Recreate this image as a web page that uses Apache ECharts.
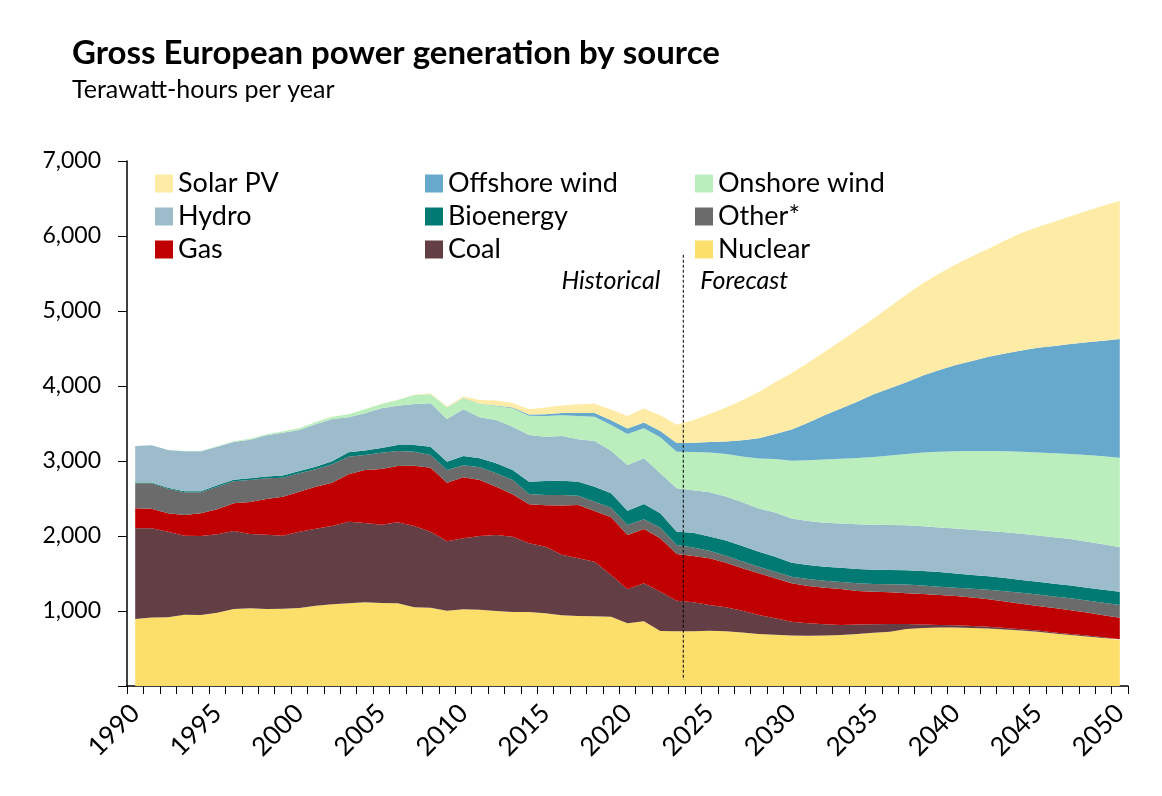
<!DOCTYPE html>
<html>
<head>
<meta charset="utf-8">
<title>Gross European power generation by source</title>
<script src="https://cdn.jsdelivr.net/npm/echarts/dist/echarts.min.js"></script>
<style>
	html, body { margin: 0; padding: 0; background: #fff; }
	#container { width: 1162px; height: 796px; }
</style>
</head>
<body>
<div id="container"></div>
<script>
/*years*/
var years = ['1990', '1991', '1992', '1993', '1994', '1995', '1996', '1997', '1998', '1999',
	'2000', '2001', '2002', '2003', '2004', '2005', '2006', '2007', '2008', '2009',
	'2010', '2011', '2012', '2013', '2014', '2015', '2016', '2017', '2018', '2019',
	'2020', '2021', '2022', '2023', '2024', '2025', '2026', '2027', '2028', '2029',
	'2030', '2031', '2032', '2033', '2034', '2035', '2036', '2037', '2038', '2039',
	'2040', '2041', '2042', '2043', '2044', '2045', '2046', '2047', '2048', '2049', '2050'];

/*TWh per source, bottom of the stack first*/
var nuclear = [893, 915, 917, 951, 948, 978, 1027, 1036, 1027, 1031,
	1040, 1071, 1089, 1102, 1116, 1107, 1102, 1049, 1044, 1004,
	1022, 1018, 1000, 987, 987, 969, 942, 933, 929, 924,
	836, 862, 733, 729, 730, 738, 730, 712, 695, 685,
	675, 670, 672, 680, 695, 710, 725, 760, 775, 780,
	780, 775, 768, 755, 740, 725, 700, 680, 660, 640, 615];
var coal = [1209, 1187, 1141, 1053, 1052, 1044, 1040, 991, 991, 973,
	1018, 1027, 1044, 1089, 1057, 1044, 1080, 1084, 1014, 925,
	947, 982, 1013, 1004, 915, 889, 808, 769, 729, 556,
	453, 507, 525, 409, 386, 342, 319, 292, 252, 217,
	183, 166, 150, 135, 125, 115, 103, 66, 45, 35,
	30, 25, 22, 20, 18, 15, 15, 13, 12, 10, 8];
var gas = [267, 262, 244, 276, 302, 334, 369, 426, 475, 520,
	533, 560, 578, 631, 707, 742, 751, 805, 853, 782,
	813, 747, 645, 565, 520, 551, 656, 711, 675, 769,
	724, 724, 711, 622, 617, 622, 595, 565, 555, 534,
	511, 497, 489, 477, 447, 433, 421, 412, 407, 399,
	390, 380, 366, 353, 340, 328, 325, 317, 308, 295, 288];
var other = [333, 338, 329, 302, 280, 302, 293, 294, 276, 254,
	245, 231, 245, 236, 200, 218, 200, 184, 169, 169,
	160, 169, 178, 191, 138, 138, 141, 125, 125, 129,
	134, 129, 142, 120, 113, 100, 92, 90, 88, 86,
	88, 94, 93, 95, 103, 102, 107, 114, 113, 111,
	110, 118, 129, 137, 147, 152, 155, 160, 160, 165, 169];
var bioenergy = [10, 10, 12, 15, 15, 18, 20, 22, 25, 28,
	30, 35, 40, 58, 60, 62, 80, 90, 111, 111,
	125, 120, 133, 133, 164, 186, 191, 186, 200, 191,
	191, 205, 191, 178, 198, 191, 205, 209, 200, 200,
	186, 186, 187, 190, 190, 190, 192, 193, 195, 195,
	190, 182, 177, 175, 170, 170, 170, 170, 170, 175, 178];
var hydro = [488, 497, 504, 532, 532, 515, 504, 515, 548, 572,
	547, 565, 564, 466, 496, 529, 525, 548, 578, 569,
	622, 546, 578, 578, 623, 591, 595, 565, 609, 569,
	609, 609, 534, 578, 566, 589, 586, 582, 578, 591,
	592, 587, 587, 591, 598, 600, 599, 600, 595, 595,
	600, 605, 606, 610, 615, 618, 620, 620, 615, 605, 592];
var onshore = [1, 2, 3, 4, 5, 7, 10, 12, 16, 20,
	23, 31, 31, 40, 53, 58, 75, 120, 124, 156,
	147, 178, 186, 244, 257, 276, 276, 311, 324, 342,
	413, 400, 480, 489, 510, 530, 566, 609, 667, 713,
	769, 810, 842, 862, 882, 905, 928, 950, 985, 1010,
	1030, 1048, 1065, 1080, 1095, 1107, 1120, 1135, 1155, 1173, 1195];
var offshore = [0, 0, 0, 0, 0, 0, 0, 0, 0, 0,
	0, 0, 0, 0, 0, 0, 0, 0, 1, 2,
	3, 5, 8, 12, 15, 22, 30, 40, 50, 65,
	75, 78, 85, 115, 125, 140, 168, 217, 269, 335,
	415, 500, 590, 670, 750, 835, 895, 955, 1025, 1090,
	1150, 1202, 1257, 1305, 1350, 1395, 1430, 1465, 1505, 1542, 1582];
var solar = [0, 0, 0, 0, 0, 0, 0, 0, 0, 0,
	0, 0, 1, 1, 2, 3, 3, 5, 8, 9,
	22, 50, 65, 58, 71, 93, 102, 116, 124, 142,
	164, 187, 209, 244, 300, 375, 452, 535, 615, 690,
	750, 800, 845, 900, 960, 1010, 1090, 1170, 1230, 1285,
	1340, 1395, 1440, 1505, 1565, 1610, 1655, 1705, 1753, 1800, 1843];

var yTicks = [0, 1000, 2000, 3000, 4000, 5000, 6000, 7000];

var font = 'Lato, "Open Sans", sans-serif';

var layers = [
	{ name: 'Nuclear', data: nuclear, color: '#FCDE6B' },
	{ name: 'Coal', data: coal, color: '#633E45' },
	{ name: 'Gas', data: gas, color: '#C00000' },
	{ name: 'Other*', data: other, color: '#6B6B6B' },
	{ name: 'Bioenergy', data: bioenergy, color: '#007A72' },
	{ name: 'Hydro', data: hydro, color: '#9CBCCC' },
	{ name: 'Onshore wind', data: onshore, color: '#BAEFBD' },
	{ name: 'Offshore wind', data: offshore, color: '#67A9CC' },
	{ name: 'Solar PV', data: solar, color: '#FEEBA6' }
];

/*one legend column*/
function makeLegend(names, left) {
	return {
		data: names,
		left: left,
		top: 170,
		padding: 0,
		orient: 'vertical',
		icon: 'rect',
		itemWidth: 18,
		itemHeight: 18,
		itemGap: 6,
		selectedMode: false,
		textStyle: { fontFamily: font, fontSize: 27, lineHeight: 27, color: '#000' }
	};
}

var chart = echarts.init(document.getElementById('container'));

var series = [];
for (var i = 0; i < layers.length; i++) {
	series.push({
		name: layers[i].name,
		type: 'line',
		stack: 'total',
		data: layers[i].data,
		symbol: 'none',
		lineStyle: { width: 0 },
		itemStyle: { color: layers[i].color },
		areaStyle: { color: layers[i].color, opacity: 1 },
		emphasis: { disabled: true },
		silent: true
	});
}

var option = {
	animation: false,
	backgroundColor: '#fff',
	title: {
		text: 'Gross European power generation by source',
		subtext: 'Terawatt-hours per year',
		left: 72,
		top: 37,
		padding: 0,
		itemGap: 7,
		textStyle: { fontFamily: font, fontSize: 33, fontWeight: 'bold', color: '#000' },
		subtextStyle: { fontFamily: font, fontSize: 25, color: '#000' }
	},
	legend: [
		makeLegend(['Solar PV', 'Hydro', 'Gas'], 155),
		makeLegend(['Offshore wind', 'Bioenergy', 'Coal'], 425),
		makeLegend(['Onshore wind', 'Other*', 'Nuclear'], 695)
	],
	grid: { left: 127, right: 34, top: 161, bottom: 110, containLabel: false },
	xAxis: {
		type: 'category',
		data: years,
		boundaryGap: true,
		axisLine: { lineStyle: { color: '#000', width: 1.5 } },
		axisTick: { show: true, interval: 0, length: 8, lineStyle: { color: '#000' } },
		axisLabel: {
			interval: 4,
			rotate: 45,
			margin: 23,
			fontFamily: font,
			fontSize: 26,
			color: '#000'
		},
		splitLine: { show: false }
	},
	yAxis: {
		type: 'value',
		min: yTicks[0],
		max: yTicks[yTicks.length - 1],
		interval: 1000,
		axisLine: { show: true, lineStyle: { color: '#000', width: 1.5 } },
		axisTick: { show: true, length: 9, lineStyle: { color: '#000' } },
		axisLabel: {
			margin: 26,
			fontFamily: font,
			fontSize: 23,
			color: '#000',
			formatter: function(v) {
				if (v == 0) return '';
				return v.toLocaleString('en-US');
			}
		},
		splitLine: { show: false }
	},
	series: series
};

chart.setOption(option);

/*historical / forecast divider*/
var xa = chart.convertToPixel({ xAxisIndex: 0 }, '2023');
var xb = chart.convertToPixel({ xAxisIndex: 0 }, '2024');
var xd = xa + (xb - xa) * 0.4;
var yTop = chart.convertToPixel({ yAxisIndex: 0 }, 5750);
var yBot = chart.convertToPixel({ yAxisIndex: 0 }, 80);
var yTxt = chart.convertToPixel({ yAxisIndex: 0 }, 5400);

chart.setOption({
	graphic: [{
		type: 'line',
		z: 100,
		shape: { x1: xd, y1: yTop, x2: xd, y2: yBot },
		style: { stroke: '#000', lineWidth: 1, lineDash: [3, 2] }
	}, {
		type: 'text',
		z: 100,
		x: xd - 23,
		y: yTxt,
		style: {
			text: 'Historical',
			font: 'italic 25px ' + font,
			fill: '#000',
			align: 'right',
			verticalAlign: 'middle'
		}
	}, {
		type: 'text',
		z: 100,
		x: xd + 17,
		y: yTxt,
		style: {
			text: 'Forecast',
			font: 'italic 25px ' + font,
			fill: '#000',
			align: 'left',
			verticalAlign: 'middle'
		}
	}]
});
</script>
</body>
</html>
